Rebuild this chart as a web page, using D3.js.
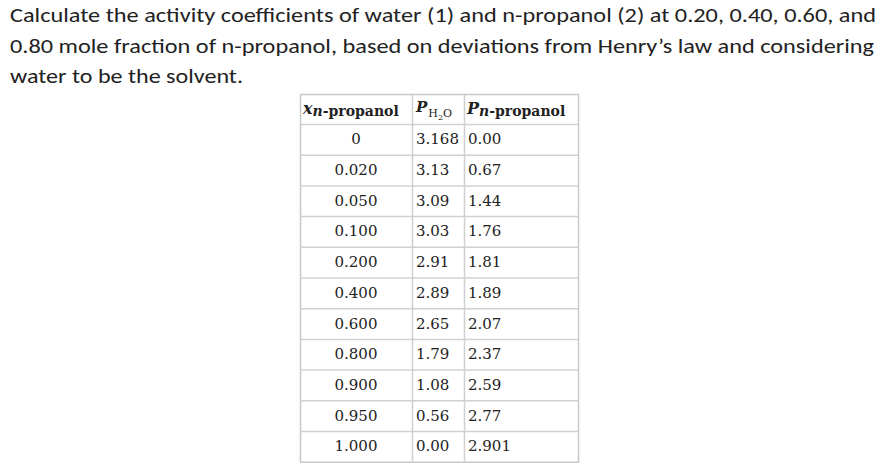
<!DOCTYPE html>
<html><head><meta charset="utf-8">
<script src="https://cdn.jsdelivr.net/npm/d3@7"></script>
<style>body{margin:0;background:#fff}</style>
</head><body><svg></svg>
<script>
var titleLines = [
  "Calculate the activity coefficients of water (1) and n-propanol (2) at 0.20, 0.40, 0.60, and",
  "0.80 mole fraction of n-propanol, based on deviations from Henry\u2019s law and considering",
  "water to be the solvent."
];
var titleWidths = [866, 864, 233];
var xProp = ["0", "0.020", "0.050", "0.100", "0.200", "0.400", "0.600", "0.800", "0.900", "0.950", "1.000"];
var pWater = ["3.168", "3.13", "3.09", "3.03", "2.91", "2.89", "2.65", "1.79", "1.08", "0.56", "0.00"];
var pProp = ["0.00", "0.67", "1.44", "1.76", "1.81", "1.89", "2.07", "2.37", "2.59", "2.77", "2.901"];

var W = 889, H = 466;
var svg = d3.select("svg").attr("width", W).attr("height", H);

svg.selectAll("text.title").data(titleLines).enter().append("text")
  .attr("class", "title")
  .attr("x", 10).attr("y", (d, i) => 22 + i * 30.5)
  .attr("font-family", "Carlito, 'Noto Sans', sans-serif")
  .attr("font-size", 19.5).attr("fill", "#222")
  .attr("textLength", (d, i) => titleWidths[i]).attr("lengthAdjust", "spacingAndGlyphs")
  .text(d => d);

// table geometry
var colX = [300, 412, 464, 578];
var tableTop = 94, headH = 30, rowH = 30.7;
var rows = d3.range(xProp.length);
var y = d3.scaleLinear().domain([0, xProp.length]).range([tableTop + headH, tableTop + headH + rowH * xProp.length]);
var serif = "Georgia, 'DejaVu Serif', serif";

var g = svg.append("g");
g.append("rect").attr("x", colX[0] + 0.5).attr("y", tableTop + 0.5)
  .attr("width", colX[3] - colX[0]).attr("height", y(xProp.length) - tableTop)
  .attr("fill", "none").attr("stroke", "#c8c8c8").attr("stroke-width", 1.5);
g.selectAll("line.h").data(rows).enter().append("line")
  .attr("x1", colX[0]).attr("x2", colX[3])
  .attr("y1", d => y(d) + 0.5).attr("y2", d => y(d) + 0.5)
  .attr("stroke", "#d0d0d0").attr("stroke-width", 1.5);
g.selectAll("line.v").data([colX[1], colX[2]]).enter().append("line")
  .attr("x1", d => d + 0.5).attr("x2", d => d + 0.5)
  .attr("y1", tableTop).attr("y2", y(xProp.length))
  .attr("stroke", "#d0d0d0").attr("stroke-width", 1.5);

// header
var hy = tableTop + 20;
var h1 = g.append("text").attr("x", 303).attr("y", hy).attr("font-family", serif)
  .attr("font-size", 14).attr("font-weight", "bold").attr("fill", "#222");
h1.append("tspan").attr("font-style", "italic").attr("font-size", 16).text("x");
h1.append("tspan").attr("font-style", "italic").attr("dy", 2).text("n");
h1.append("tspan").text("-propanol");
var h2 = g.append("text").attr("x", 416).attr("y", hy - 2).attr("font-family", serif)
  .attr("font-size", 15).attr("fill", "#222");
h2.append("tspan").attr("font-style", "italic").attr("font-weight", "bold").text("P");
h2.append("tspan").attr("font-size", 11).attr("dy", 5).attr("dx", 1).text("H");
h2.append("tspan").attr("font-size", 8).attr("dy", 3).text("2");
h2.append("tspan").attr("font-size", 11).attr("dy", -3).text("O");
var h3 = g.append("text").attr("x", 467).attr("y", hy).attr("font-family", serif)
  .attr("font-size", 14).attr("font-weight", "bold").attr("fill", "#222");
h3.append("tspan").attr("font-style", "italic").attr("font-size", 16).text("P");
h3.append("tspan").attr("font-style", "italic").attr("dy", 2).text("n");
h3.append("tspan").text("-propanol");

// body cells
function cells(arr, x, anchor) {
  g.selectAll(null).data(arr).enter().append("text")
    .attr("x", x).attr("y", (d, i) => y(i) + rowH / 2 + 5)
    .attr("text-anchor", anchor)
    .attr("font-family", serif).attr("font-size", 15).attr("fill", "#222")
    .text(d => d);
}
cells(xProp, 356, "middle");
cells(pWater, 416, "start");
cells(pProp, 468, "start");
</script>
</body></html>
